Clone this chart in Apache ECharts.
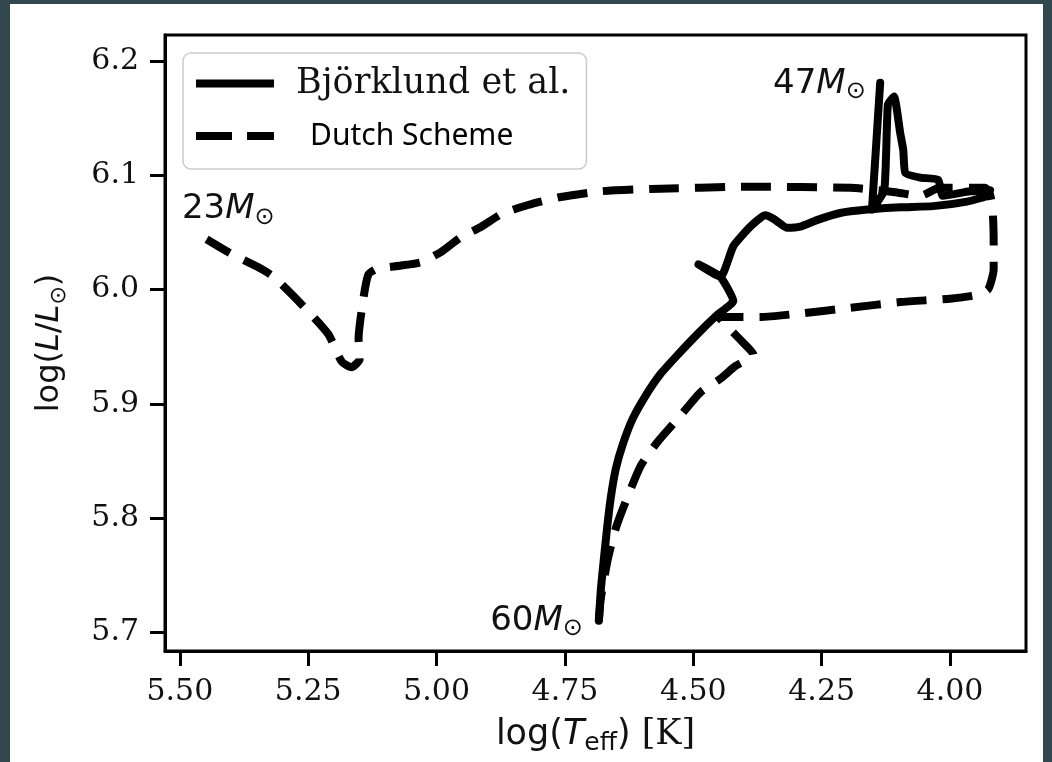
<!DOCTYPE html>
<html>
<head>
<meta charset="utf-8">
<script src="https://cdn.jsdelivr.net/npm/echarts@6/dist/echarts.min.js"></script>
<style>
  html, body { margin: 0; padding: 0; background: #33474f; }
  #chart { width: 1052px; height: 762px; }
</style>
</head>
<body>
<div id="chart"></div>
<script>
// Axis tick values
const tempTicks = [5.50, 5.25, 5.00, 4.75, 4.50, 4.25, 4.00];
const lumTicks = [5.7, 5.8, 5.9, 6.0, 6.1, 6.2];

// Evolutionary track, Björklund et al. mass-loss: [log Teff, log L/Lsun]
const bjorklundTrack = [
  [4.684, 5.710], [4.680, 5.738], [4.674, 5.765], [4.668, 5.791], [4.661, 5.817],
  [4.651, 5.843], [4.637, 5.865], [4.618, 5.887], [4.593, 5.907], [4.564, 5.926],
  [4.530, 5.943], [4.492, 5.961], [4.453, 5.978], [4.422, 5.990], [4.447, 6.011],
  [4.490, 6.022], [4.447, 6.011], [4.422, 6.038], [4.389, 6.055], [4.360, 6.065],
  [4.344, 6.062], [4.317, 6.054], [4.292, 6.055], [4.258, 6.061], [4.214, 6.067],
  [4.161, 6.070], [4.097, 6.072], [4.033, 6.073], [3.967, 6.077], [3.928, 6.082],
  [3.922, 6.087], [3.961, 6.086], [4.014, 6.082], [4.023, 6.096], [4.058, 6.098],
  [4.087, 6.102], [4.091, 6.122], [4.097, 6.137], [4.109, 6.169], [4.121, 6.162],
  [4.128, 6.087], [4.152, 6.070], [4.136, 6.181]
];

// Evolutionary track, Dutch scheme mass-loss: [log Teff, log L/Lsun]
const dutchTrack = [
  [4.684, 5.710], [4.680, 5.730], [4.666, 5.765], [4.651, 5.791], [4.632, 5.814],
  [4.602, 5.846], [4.569, 5.867], [4.530, 5.887], [4.486, 5.910], [4.447, 5.922],
  [4.418, 5.933], [4.383, 5.943], [4.404, 5.954], [4.428, 5.965], [4.451, 5.976],
  [4.369, 5.976], [4.292, 5.979], [4.194, 5.984], [4.097, 5.989], [4.000, 5.992],
  [3.951, 5.995], [3.926, 6.000], [3.915, 6.018], [3.915, 6.044], [3.917, 6.070],
  [3.922, 6.083], [3.932, 6.089], [4.020, 6.089], [4.058, 6.082], [4.103, 6.085],
  [4.142, 6.087], [4.194, 6.089], [4.389, 6.090], [4.583, 6.088], [4.680, 6.086],
  [4.758, 6.081], [4.822, 6.074], [4.874, 6.066], [4.913, 6.055], [4.952, 6.046],
  [4.991, 6.033], [5.030, 6.024], [5.069, 6.021], [5.117, 6.018], [5.133, 6.013],
  [5.143, 5.991], [5.152, 5.957], [5.150, 5.939], [5.166, 5.932], [5.185, 5.937],
  [5.211, 5.961], [5.263, 5.987], [5.317, 6.011], [5.341, 6.018], [5.399, 6.031],
  [5.448, 6.044]
];

// Stellar mass annotations: [log Teff, log L/Lsun, mass, text alignment]
const massNotes = [
  [4.164, 6.180, '47', 'right'],
  [4.715, 5.710, '60', 'right'],
  [5.496, 6.070, '23', 'left']
];

const ink = '#111111';
const sans = 'DejaVu Sans';
const serif = 'DejaVu Serif';

const chart = echarts.init(document.getElementById('chart'), null, { renderer: 'canvas' });

chart.setOption({
  animation: false,
  backgroundColor: '#33474f',
  graphic: [{
    type: 'rect', left: 10, top: 4, z: -10, silent: true,
    shape: { width: 1033, height: 758 },
    style: { fill: '#ffffff' }
  }],
  grid: {
    left: 165, right: 26, top: 35, bottom: 111,
    show: true, backgroundColor: '#ffffff', borderColor: '#000', borderWidth: 3
  },
  legend: {
    left: 183, top: 53, orient: 'vertical',
    padding: [13, 16, 18, 9],
    itemWidth: 78, itemHeight: 8, itemGap: 20,
    backgroundColor: '#ffffff', borderColor: '#cccccc', borderWidth: 1.5, borderRadius: 8,
    data: [
      { name: 'Björklund et al.', itemStyle: { color: '#000', opacity: 0 },
        lineStyle: { width: 8, type: 'solid', cap: 'butt', color: '#000' } },
      { name: 'Dutch Scheme', itemStyle: { color: '#000', opacity: 0 },
        lineStyle: { width: 8, type: [36, 15], cap: 'butt', color: '#000' } }
    ],
    formatter: name => name === 'Dutch Scheme' ? '{b|' + name + '}' : '{a|' + name + '}',
    textStyle: {
      rich: {
        a: { fontFamily: serif, fontSize: 35, color: ink, padding: [0, 0, 0, 17] },
        b: { fontFamily: 'Noto Sans', fontSize: 30, color: '#000', padding: [0, 0, 0, 31] }
      }
    }
  },
  xAxis: {
    type: 'value', inverse: true, min: 3.852, max: 5.529,
    splitLine: { show: false },
    axisLine: { show: true, onZero: false, lineStyle: { color: '#000', width: 3 } },
    axisTick: { show: true, length: 15, customValues: tempTicks, lineStyle: { color: '#000', width: 3 } },
    axisLabel: {
      customValues: tempTicks, formatter: v => v.toFixed(2),
      fontFamily: serif, fontSize: 30, color: ink, margin: 26
    },
    name: '{a|log(}{i|T}{s|eff}{a|) }{b|[K]}',
    nameLocation: 'middle', nameGap: 63,
    nameTextStyle: {
      rich: {
        a: { fontFamily: sans, fontSize: 35, lineHeight: 42, color: ink },
        i: { fontFamily: sans, fontStyle: 'italic', fontSize: 35, lineHeight: 42, color: ink },
        s: { fontFamily: sans, fontSize: 25, lineHeight: 29, verticalAlign: 'bottom', color: ink },
        b: { fontFamily: serif, fontSize: 35, lineHeight: 42, color: ink }
      }
    }
  },
  yAxis: {
    type: 'value', min: 5.6836, max: 6.2228,
    splitLine: { show: false },
    axisLine: { show: true, onZero: false, lineStyle: { color: '#000', width: 3 } },
    axisTick: { show: true, length: 15, customValues: lumTicks, lineStyle: { color: '#000', width: 3 } },
    axisLabel: {
      customValues: lumTicks, formatter: v => v.toFixed(1),
      fontFamily: serif, fontSize: 30, color: ink, margin: 26
    },
    name: '{a|log(}{i|L}{a|/}{i|L}{s|⊙}{a|)}',
    nameLocation: 'middle', nameRotate: 90, nameGap: 95,
    nameTextStyle: {
      rich: {
        a: { fontFamily: sans, fontSize: 32, lineHeight: 40, color: ink },
        i: { fontFamily: sans, fontStyle: 'italic', fontSize: 32, lineHeight: 40, color: ink },
        s: { fontFamily: sans, fontSize: 22, lineHeight: 28, verticalAlign: 'bottom', color: ink }
      }
    }
  },
  series: [
    {
      name: 'Dutch Scheme', type: 'line', data: dutchTrack,
      symbol: 'none', showSymbol: false, silent: true, z: 2, smooth: 0.2,
      itemStyle: { color: '#000' },
      lineStyle: { color: '#000', width: 8, type: [30, 16], cap: 'butt', join: 'round' }
    },
    {
      name: 'Björklund et al.', type: 'line', data: bjorklundTrack,
      symbol: 'none', showSymbol: false, silent: true, z: 3, smooth: 0.15,
      itemStyle: { color: '#000' },
      lineStyle: { color: '#000', width: 8, type: 'solid', cap: 'round', join: 'round' }
    },
    {
      name: 'mass notes', type: 'scatter', silent: true, z: 4,
      symbolSize: 0, itemStyle: { color: '#000', opacity: 1 },
      data: massNotes.map(m => ({
        value: [m[0], m[1]],
        label: {
          show: true, position: [0, 0], align: m[3], verticalAlign: 'middle', color: ink, opacity: 1,
          formatter: '{d|' + m[2] + '}{m|M}{s|⊙}',
          rich: {
            d: { fontFamily: sans, fontSize: 34, lineHeight: 40, color: ink },
            m: { fontFamily: sans, fontStyle: 'italic', fontSize: 34, lineHeight: 40, color: ink },
            s: { fontFamily: sans, fontSize: 24, lineHeight: 28, verticalAlign: 'bottom', color: ink }
          }
        }
      }))
    }
  ]
});
</script>
</body>
</html>
